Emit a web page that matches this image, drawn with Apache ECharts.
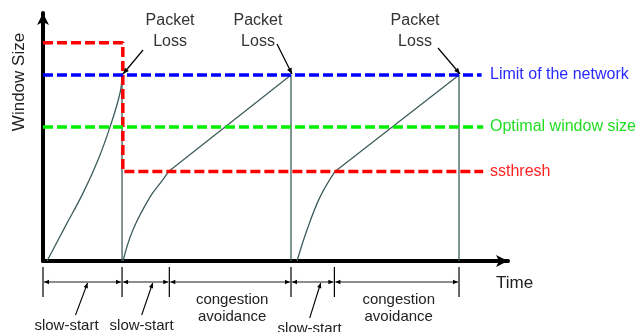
<!DOCTYPE html>
<html>
<head>
<meta charset="utf-8">
<script src="https://cdn.jsdelivr.net/npm/echarts@6/dist/echarts.min.js"></script>
<style>
html,body{margin:0;padding:0;background:#fff;}
#main{width:639px;height:332px;}
</style>
</head>
<body>
<div id="main"></div>
<script>
// congestion window, arbitrary units
// slow-start pieces (curved)
var ssTime = [
  [0.26, 1.42, 2.58, 3.55, 4.32, 4.97, 5.1],
  [5.16, 5.8, 6.9, 7.75, 8.1],
  [16.39, 17.03, 17.87, 18.84]
];
var ssSize = [
  [0, 11, 21.9, 32.6, 43.2, 54.2, 60],
  [0, 10, 20.6, 26.3, 28.9],
  [0, 10, 20.6, 28.9]
];
// congestion avoidance pieces + drop after loss (straight)
var caTime = [
  [5.1, 5.1],
  [8.1, 16.0, 16.0],
  [18.84, 26.84, 26.84]
];
var caSize = [
  [60, 0],
  [28.9, 60, 0],
  [28.9, 60, 0]
];

var ssthreshTime = [0, 5.15, 5.15, 28.4];
var ssthreshSize = [70.4, 70.4, 28.9, 28.9];
var limitTime = [0, 28.3];
var limitSize = [60, 60];
var optimalTime = [0, 28.4];
var optimalSize = [43.2, 43.2];

var lossTimes = [5.1, 16.0, 26.84];
var lossSize = 60;

var phaseBounds = [0, 5.1, 8.15, 16.0, 18.8, 26.84];
var phaseNames = ['slow-start', 'slow-start', 'congestion\navoidance', 'slow-start', 'congestion\navoidance'];

var levelNames = ['Limit of the network', 'Optimal window size', 'ssthresh'];

var FONT = '"Liberation Sans", Arial, sans-serif';

var myChart = echarts.init(document.getElementById('main'));

function pairs(xs, ys) {
  var out = [];
  for (var i = 0; i < xs.length; i++) out.push([xs[i], ys[i]]);
  return out;
}

function dashed(name, xs, ys, color) {
  return {
    name: name, type: 'line', data: pairs(xs, ys),
    symbol: 'none', silent: true, z: 5,
    lineStyle: {color: color, width: 3.5, type: [10, 4]}
  };
}

function cwnd(xs, ys, smooth) {
  return {
    type: 'line', data: pairs(xs, ys), smooth: smooth,
    symbol: 'none', silent: true, z: 3,
    lineStyle: {color: '#3f5c5c', width: 1.3}
  };
}

var series = [];
for (var i = 0; i < ssTime.length; i++) series.push(cwnd(ssTime[i], ssSize[i], 0.4));
for (var i = 0; i < caTime.length; i++) series.push(cwnd(caTime[i], caSize[i], false));
series.push(dashed('ssthresh', ssthreshTime, ssthreshSize, '#ff0000'));
series.push(dashed('limit', limitTime, limitSize, '#0000ff'));
series.push(dashed('optimal', optimalTime, optimalSize, '#00ee00'));

option = {
  animation: false,
  grid: {left: 43, right: 131, top: 13, bottom: 71},
  xAxis: {
    type: 'value', min: 0, max: 30,
    axisLine: {lineStyle: {color: '#000', width: 4}, symbol: ['none', 'arrow'], symbolSize: [9, 12]},
    axisTick: {show: false}, axisLabel: {show: false}, splitLine: {show: false}
  },
  yAxis: {
    type: 'value', min: 0, max: 80,
    axisLine: {lineStyle: {color: '#000', width: 4}, symbol: ['none', 'arrow'], symbolSize: [9, 12]},
    axisTick: {show: false}, axisLabel: {show: false}, splitLine: {show: false}
  },
  series: series
};

myChart.setOption(option);

function px(x, y) {
  return myChart.convertToPixel({gridIndex: 0}, [x, y]);
}

function arrowHead(tip, from, len, half) {
  var dx = tip[0] - from[0], dy = tip[1] - from[1];
  var d = Math.sqrt(dx * dx + dy * dy);
  var ux = dx / d, uy = dy / d;
  var bx = tip[0] - ux * len, by = tip[1] - uy * len;
  return {
    type: 'polygon', silent: true, z: 100,
    shape: {points: [tip, [bx - uy * half, by + ux * half], [bx + uy * half, by - ux * half]]},
    style: {fill: '#000'}
  };
}

function seg(a, b, w) {
  return {
    type: 'line', silent: true, z: 100,
    shape: {x1: a[0], y1: a[1], x2: b[0], y2: b[1]},
    style: {stroke: '#000', lineWidth: w || 1}
  };
}

function txt(s, x, y, size, color, align) {
  return {
    type: 'text', silent: true, z: 100, x: x, y: y,
    style: {text: s, font: size + 'px ' + FONT, fill: color, align: align || 'center', verticalAlign: 'middle', lineHeight: 17}
  };
}

var g = [];

// axis names
g.push({
  type: 'text', silent: true, x: 19, y: 82, rotation: Math.PI / 2,
  style: {text: 'Window Size', font: '17px ' + FONT, fill: '#222', align: 'center', verticalAlign: 'middle'}
});
g.push(txt('Time', 496, 283, 17, '#222', 'left'));

// level labels on the right
var levelY = [limitSize[0], optimalSize[0], ssthreshSize[3]];
var levelColors = ['#2a2aff', '#22dd22', '#ff2222'];
for (var i = 0; i < levelNames.length; i++) {
  var p = px(30, levelY[i]);
  g.push(txt(levelNames[i], 490, p[1], 16, levelColors[i], 'left'));
}

// packet loss callouts
var lossDx = [48, -33, -44];
var lossFrom = [[21, -25], [-14, -31], [-21, -27]];
for (var i = 0; i < lossTimes.length; i++) {
  var t = px(lossTimes[i], lossSize);
  g.push({
    type: 'text', silent: true, z: 100, x: t[0] + lossDx[i], y: 10,
    style: {text: 'Packet\nLoss', font: '16px ' + FONT, fill: '#333', align: 'center', verticalAlign: 'top', lineHeight: 21}
  });
  var tip = [t[0] + 1, t[1] - 1];
  var from = [t[0] + lossFrom[i][0], t[1] + lossFrom[i][1]];
  g.push(seg(from, tip, 1.2));
  g.push(arrowHead(tip, from, 6, 2.5));
}

// phase markers below the time axis
var axisY = px(0, 0)[1];
var arrowY = axisY + 21;
var bx = phaseBounds.map(function (b) { return px(b, 0)[0]; });
for (var i = 0; i < bx.length; i++) {
  g.push(seg([bx[i], axisY + 6], [bx[i], axisY + 36], 1.2));
}
var pointerDx = [-16, -4, -3];
var pointerLean = [[9, 21], [0, 11], [0, 11]];
var k = 0;
for (var i = 0; i < phaseNames.length; i++) {
  var a = bx[i], b = bx[i + 1];
  g.push(seg([a + 1, arrowY], [b - 1, arrowY], 0.9));
  g.push(arrowHead([a + 1, arrowY], [b, arrowY], 5, 2.2));
  g.push(arrowHead([b - 1, arrowY], [a, arrowY], 5, 2.2));
  var mid = (a + b) / 2;
  if (phaseNames[i] === 'slow-start') {
    var lx = mid + pointerDx[k];
    var ly = k === 2 ? 329 : 326;
    g.push(txt(phaseNames[i], lx, ly, 15, '#222'));
    var pfrom = [lx + pointerLean[k][0], ly - 11];
    var ptip = [lx + pointerLean[k][1], arrowY + 1];
    g.push(seg(pfrom, ptip, 1.1));
    g.push(arrowHead(ptip, pfrom, 5, 2.2));
    k++;
  } else {
    g.push({
      type: 'text', silent: true, z: 100, x: mid + 2, y: axisY + 30,
      style: {text: phaseNames[i], font: '15px ' + FONT, fill: '#222', align: 'center', verticalAlign: 'top', lineHeight: 17}
    });
  }
}

myChart.setOption({graphic: g});
</script>
</body>
</html>
